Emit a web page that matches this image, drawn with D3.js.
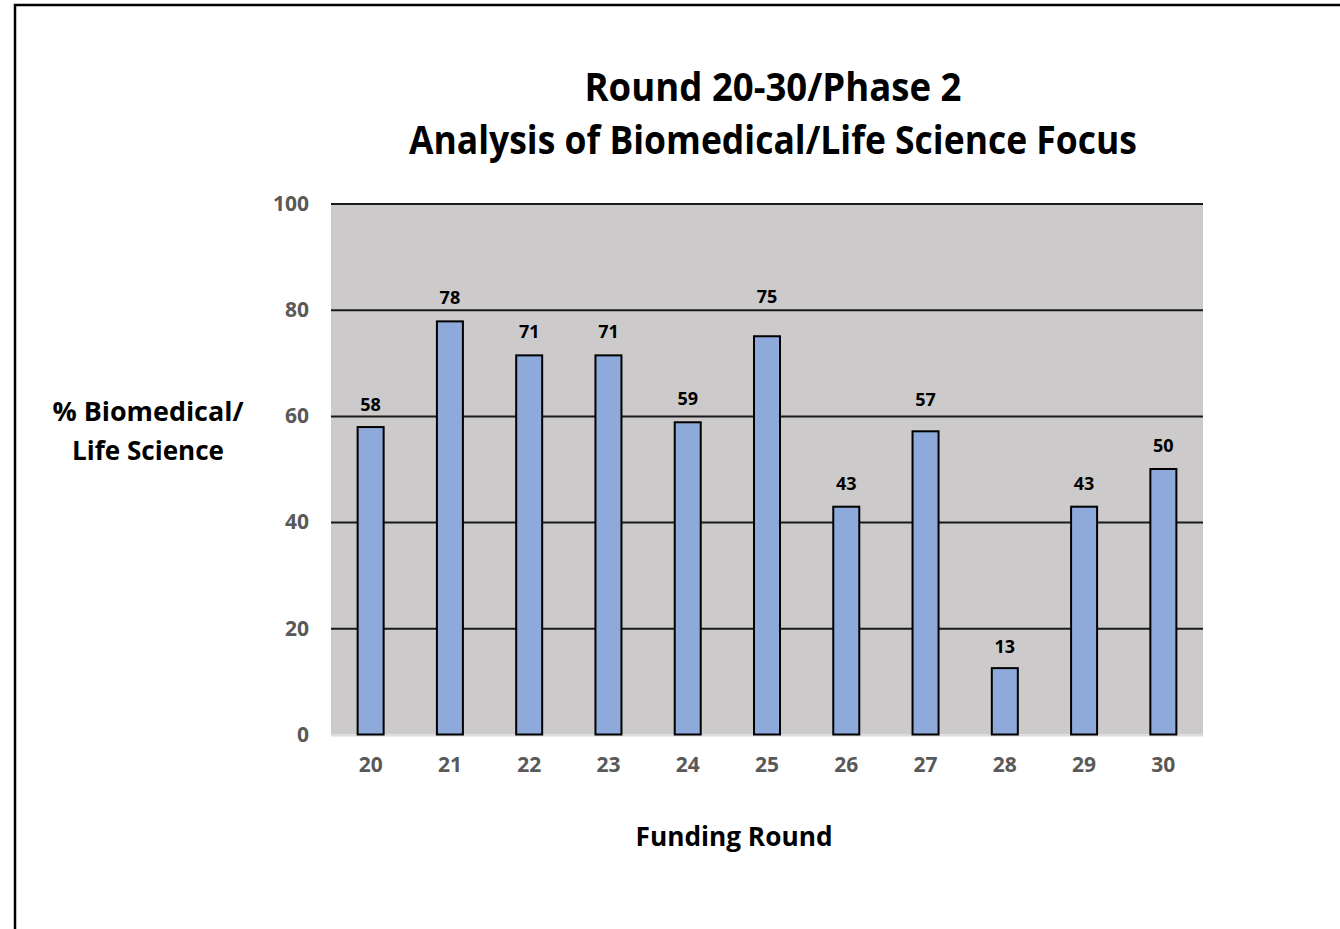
<!DOCTYPE html>
<html>
<head>
<meta charset="utf-8">
<script src="https://d3js.org/d3.v7.min.js"></script>
<style>
body { margin: 0; background: #fff; }
text { font-family: "Open Sans", sans-serif; font-weight: bold; }
</style>
</head>
<body>
<div id="chart"></div>
<script>
// funding rounds and share of biomedical / life science awards (%)
var rounds = ["20", "21", "22", "23", "24", "25", "26", "27", "28", "29", "30"];
var pctBio = [57.9, 77.8, 71.4, 71.4, 58.8, 75.0, 42.9, 57.1, 12.5, 42.9, 50.0];
var yTicks = [0, 20, 40, 60, 80, 100];
var titleLines = ["Round 20-30/Phase 2", "Analysis of Biomedical/Life Science Focus"];
var yTitleLines = ["% Biomedical/", "Life Science"];
var xTitle = "Funding Round";

var width = 1340, height = 929;
var plot = { left: 331, right: 1203, top: 203.5, bottom: 734.5 };
// gap between bar top and its label baseline (some labels were dragged up)
var labelLift = [16, 17, 17, 17, 17, 33, 17, 25, 15, 17, 17];

var svg = d3.select("#chart").append("svg")
  .attr("width", width).attr("height", height);

// outer frame (runs off the right and bottom edges)
svg.append("rect")
  .attr("x", 15).attr("y", 5)
  .attr("width", width + 20).attr("height", height + 20)
  .attr("fill", "#fff").attr("stroke", "#000").attr("stroke-width", 2.5);

var x = d3.scaleBand()
  .domain(rounds)
  .range([plot.left, plot.right])
  .paddingInner(0.672)
  .paddingOuter(0.336);

var y = d3.scaleLinear()
  .domain([0, 100])
  .range([plot.bottom, plot.top]);

// plot background
svg.append("rect")
  .attr("x", plot.left).attr("y", plot.top)
  .attr("width", plot.right - plot.left)
  .attr("height", plot.bottom - plot.top)
  .attr("fill", "#cccacb");

// bottom edge of plot
svg.append("line")
  .attr("x1", plot.left).attr("x2", plot.right)
  .attr("y1", plot.bottom + 1).attr("y2", plot.bottom + 1)
  .attr("stroke", "#dcdcdc").attr("stroke-width", 2);

// gridlines
svg.append("g")
  .attr("transform", "translate(" + plot.left + ",0)")
  .call(d3.axisLeft(y).tickValues(yTicks.filter(function(d) { return d > 0; }))
    .tickSize(-(plot.right - plot.left)).tickFormat(""))
  .call(function(g) { g.select(".domain").remove(); })
  .selectAll("line")
  .attr("stroke", "#1a1a1a").attr("stroke-width", 2);

// y tick labels
var yAxis = svg.append("g")
  .attr("transform", "translate(" + (plot.left - 22) + ",0)")
  .call(d3.axisLeft(y).tickValues(yTicks).tickSize(0).tickPadding(0));
yAxis.select(".domain").remove();
yAxis.selectAll("text")
  .attr("fill", "#595959").style("font-size", "21px")
  .style("font-family", "'Open Sans', sans-serif").style("font-weight", "bold");

// x tick labels
var xAxis = svg.append("g")
  .attr("transform", "translate(0," + plot.bottom + ")")
  .call(d3.axisBottom(x).tickSize(0).tickPadding(23));
xAxis.select(".domain").remove();
xAxis.selectAll("text")
  .attr("fill", "#595959").style("font-size", "21px")
  .style("font-family", "'Open Sans', sans-serif").style("font-weight", "bold");

// bars
svg.append("g").selectAll("rect")
  .data(pctBio)
  .enter().append("rect")
  .attr("x", function(d, i) { return x(rounds[i]); })
  .attr("y", function(d) { return y(d); })
  .attr("width", x.bandwidth())
  .attr("height", function(d) { return y(0) - y(d); })
  .attr("fill", "#8eaadb")
  .attr("stroke", "#000").attr("stroke-width", 2);

// value labels
svg.append("g").selectAll("text")
  .data(pctBio)
  .enter().append("text")
  .attr("x", function(d, i) { return x(rounds[i]) + x.bandwidth() / 2; })
  .attr("y", function(d, i) { return y(d) - labelLift[i]; })
  .attr("text-anchor", "middle")
  .style("font-size", "18px")
  .attr("fill", "#000")
  .text(function(d) { return Math.round(d); });

// title
var titleWidths = [377, 728];
svg.append("g").selectAll("text")
  .data(titleLines)
  .enter().append("text")
  .attr("x", 773)
  .attr("y", function(d, i) { return 101 + i * 53; })
  .attr("text-anchor", "middle")
  .attr("textLength", function(d, i) { return titleWidths[i]; })
  .attr("lengthAdjust", "spacingAndGlyphs")
  .style("font-size", "39px")
  .text(function(d) { return d; });

// y axis title
var yTitleWidths = [191, 152];
svg.append("g").selectAll("text")
  .data(yTitleLines)
  .enter().append("text")
  .attr("x", 148)
  .attr("y", function(d, i) { return 421 + i * 39; })
  .attr("text-anchor", "middle")
  .attr("textLength", function(d, i) { return yTitleWidths[i]; })
  .attr("lengthAdjust", "spacingAndGlyphs")
  .style("font-size", "27px")
  .text(function(d) { return d; });

// x axis title
svg.append("text")
  .attr("x", 734).attr("y", 846)
  .attr("text-anchor", "middle")
  .attr("textLength", 197)
  .attr("lengthAdjust", "spacingAndGlyphs")
  .style("font-size", "26px")
  .text(xTitle);
</script>
</body>
</html>
